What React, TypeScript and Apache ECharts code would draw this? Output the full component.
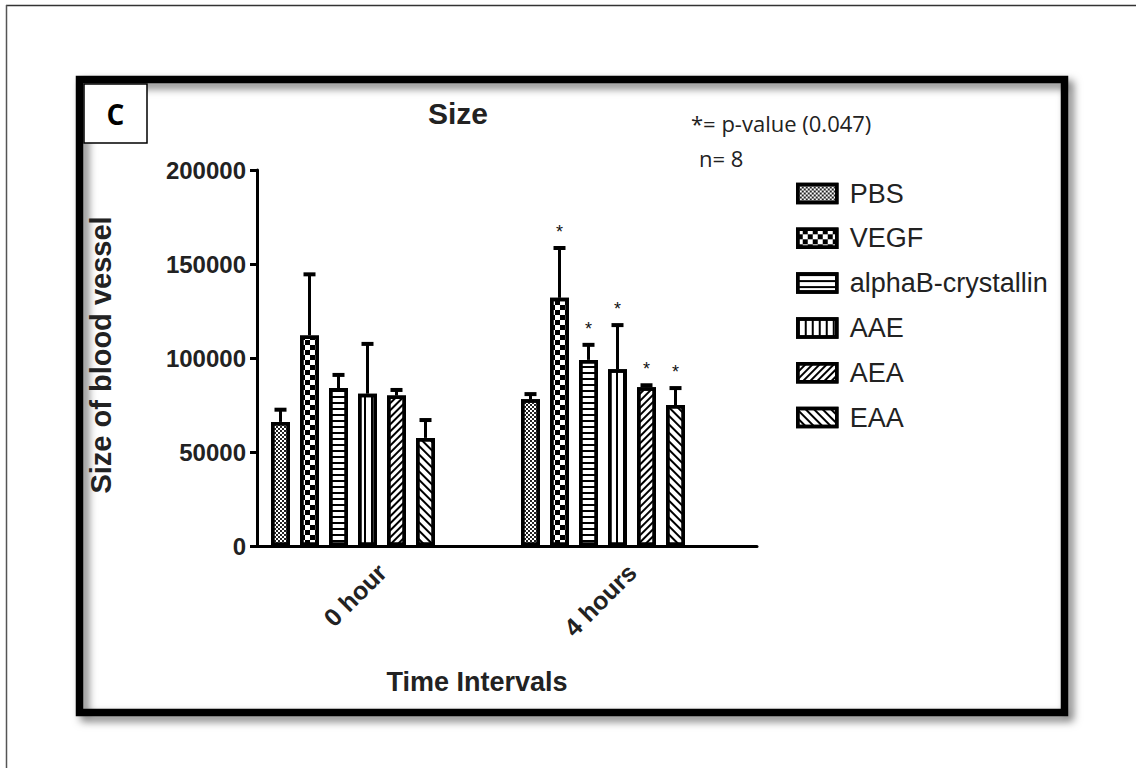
import React, { useEffect, useRef } from "react";
import * as echarts from "echarts";

const categories = ["0 hour", "4 hours"];
const seriesNames = ["PBS", "VEGF", "alphaB-crystallin", "AAE", "AEA", "EAA"];
const meanPBS = [66000, 78000];
const meanVEGF = [112000, 132000];
const meanAlphaB = [84000, 99000];
const meanAAE = [81000, 94000];
const meanAEA = [80000, 84500];
const meanEAA = [57500, 75000];
const errPBS = [6500, 2800];
const errVEGF = [32500, 26500];
const errAlphaB = [7000, 8000];
const errAAE = [26500, 23500];
const errAEA = [3000, 1000];
const errEAA = [9500, 9000];
const sig0h = [0, 0, 0, 0, 0, 0];
const sig4h = [0, 1, 1, 1, 1, 1];
const yTicks = [0, 50000, 100000, 150000, 200000];

const means = [meanPBS, meanVEGF, meanAlphaB, meanAAE, meanAEA, meanEAA];
const errs = [errPBS, errVEGF, errAlphaB, errAAE, errAEA, errEAA];

const BAR_W = 19;
const BAR_GAP = 10;
const SLOTS = 8;

const decals: any[] = [
  { symbol: "rect", symbolSize: 1, color: "#222", backgroundColor: "#fff", dashArrayX: [[1.5, 1.5], [0, 1.5, 1.5, 0]], dashArrayY: [1.5, 0] },
  { symbol: "rect", symbolSize: 1, color: "#000", backgroundColor: "#fff", dashArrayX: [[5, 5], [0, 5, 5, 0]], dashArrayY: [5, 0] },
  { symbol: "rect", symbolSize: 1, color: "#000", backgroundColor: "#fff", dashArrayX: [1, 0], dashArrayY: [2, 4] },
  { symbol: "rect", symbolSize: 1, color: "#000", backgroundColor: "#fff", dashArrayX: [2, 5], dashArrayY: [1, 0] },
  { symbol: "rect", symbolSize: 1, color: "#000", backgroundColor: "#fff", dashArrayX: [1, 0], dashArrayY: [1.5, 3], rotation: -Math.PI / 4 },
  { symbol: "rect", symbolSize: 1, color: "#000", backgroundColor: "#fff", dashArrayX: [1, 0], dashArrayY: [1.5, 3.5], rotation: Math.PI / 4 },
];

export default function App() {
  const ref = useRef<HTMLDivElement>(null);
  useEffect(() => {
    if (!ref.current) return;
    const chart = echarts.init(ref.current, null, { renderer: "svg" });

    const barSeries: any[] = seriesNames.map((name, i) => ({
      name,
      type: "bar",
      barWidth: BAR_W,
      barGap: (BAR_GAP / BAR_W) * 100 + "%",
      data: means[i],
      itemStyle: { color: "#fff", borderColor: "#000", borderWidth: 3.5, decal: decals[i] },
      z: 2,
    }));
    const dummy: any[] = ["_d1", "_d2"].map((name) => ({
      name,
      type: "bar",
      barWidth: BAR_W,
      barGap: (BAR_GAP / BAR_W) * 100 + "%",
      data: ["-", "-"],
      silent: true,
    }));
    const errSeries: any[] = seriesNames.map((name, i) => ({
      name: name + " err",
      type: "custom",
      z: 3,
      silent: true,
      data: categories.map((_, c) => [c, means[i][c], errs[i][c], c === 0 ? sig0h[i] : sig4h[i]]),
      renderItem: (params: any, api: any) => {
        const c = api.value(0);
        const m = api.value(1);
        const e = api.value(2);
        const s = api.value(3);
        const base = api.coord([c, m]);
        const top = api.coord([c, m + e]);
        const cx = base[0] + (i - (SLOTS - 1) / 2) * (BAR_W + BAR_GAP);
        const children: any[] = [
          { type: "line", shape: { x1: cx, y1: base[1], x2: cx, y2: top[1] }, style: { stroke: "#000", lineWidth: 3 } },
          { type: "line", shape: { x1: cx - 6, y1: top[1], x2: cx + 6, y2: top[1] }, style: { stroke: "#000", lineWidth: 4 } },
        ];
        if (s) {
          children.push({
            type: "text",
            style: { text: "*", x: cx, y: top[1] - 16, textAlign: "center", textVerticalAlign: "middle", fontSize: 18, fontFamily: "Liberation Sans", fill: "#111" },
          });
        }
        return { type: "group", children };
      },
    }));

    chart.setOption({
      animation: false,
      backgroundColor: "#fff",
      grid: { left: 257, top: 170, width: 500, height: 376, containLabel: false },
      legend: {
        data: seriesNames,
        orient: "vertical",
        left: 791,
        top: 175,
        itemWidth: 39,
        itemHeight: 18,
        itemGap: 17.8,
        icon: "rect",
        itemStyle: { borderColor: "#000", borderWidth: 3.5 },
        textStyle: { fontSize: 27, lineHeight: 26, fontFamily: "Liberation Sans", color: "#222", padding: [0, 0, 0, 8] },
        selectedMode: false,
      },
      xAxis: {
        type: "category",
        data: categories,
        axisLine: { lineStyle: { color: "#000", width: 3 } },
        axisTick: { alignWithLabel: true, length: 10, lineStyle: { color: "#000", width: 3 } },
        axisLabel: { rotate: 45, fontSize: 25, fontWeight: "bold", fontFamily: "Liberation Sans", color: "#222", margin: 22 },
      },
      yAxis: {
        type: "value",
        min: 0,
        max: 200000,
        interval: 50000,
        splitLine: { show: false },
        axisLine: { show: true, lineStyle: { color: "#000", width: 3 } },
        axisTick: { show: true, length: 7, lineStyle: { color: "#000", width: 3 } },
        axisLabel: { fontSize: 24, fontWeight: "bold", fontFamily: "Liberation Sans", color: "#222", margin: 11,
          formatter: (v: number) => (yTicks.includes(v) ? String(v) : "") },
      },
      series: [...barSeries, ...dummy, ...errSeries],
      graphic: [
        { type: "line", shape: { x1: 6, y1: 5.5, x2: 1136, y2: 5.5 }, style: { stroke: "#333", lineWidth: 1.5 } },
        { type: "line", shape: { x1: 6.5, y1: 5, x2: 6.5, y2: 768 }, style: { stroke: "#555", lineWidth: 1.5 } },
        {
          type: "rect",
          shape: { x: 79.5, y: 79.5, width: 985, height: 633 },
          style: { fill: "none", stroke: "#000", lineWidth: 7.5, shadowBlur: 8, shadowOffsetX: 5, shadowOffsetY: 5, shadowColor: "rgba(0,0,0,0.55)" },
          z: 10,
        },
        { type: "rect", shape: { x: 84, y: 84, width: 63, height: 59 }, style: { fill: "#fff", stroke: "#000", lineWidth: 1.5 }, z: 10 },
        { type: "text", style: { text: "C", x: 115.5, y: 114, textAlign: "center", textVerticalAlign: "middle", fontSize: 28, fontWeight: "bold", fontFamily: "Open Sans", fill: "#000" }, z: 11 },
        { type: "text", style: { text: "Size", x: 458, y: 113, textAlign: "center", textVerticalAlign: "middle", fontSize: 30, fontWeight: "bold", fontFamily: "Liberation Sans", fill: "#222" }, z: 11 },
        { type: "text", style: { text: "*= p-value (0.047)", x: 691, y: 123, textAlign: "left", textVerticalAlign: "middle", fontSize: 22, fontFamily: "Open Sans", fill: "#222" }, z: 11 },
        { type: "text", style: { text: "n= 8", x: 699, y: 158, textAlign: "left", textVerticalAlign: "middle", fontSize: 22, fontFamily: "Open Sans", fill: "#222" }, z: 11 },
        { type: "text", style: { text: "Time Intervals", x: 477, y: 682, textAlign: "center", textVerticalAlign: "middle", fontSize: 27, fontWeight: "bold", fontFamily: "Liberation Sans", fill: "#222" }, z: 11 },
        { type: "text", rotation: Math.PI / 2, x: 101, y: 355, style: { text: "Size of blood vessel", x: 0, y: 0, textAlign: "center", textVerticalAlign: "middle", fontSize: 29, fontWeight: "bold", fontFamily: "Liberation Sans", fill: "#222" }, z: 11 },
      ],
    });
    return () => chart.dispose();
  }, []);
  return <div ref={ref} style={{ position: "fixed", left: 0, top: 0, width: 1136, height: 768 }} />;
}
